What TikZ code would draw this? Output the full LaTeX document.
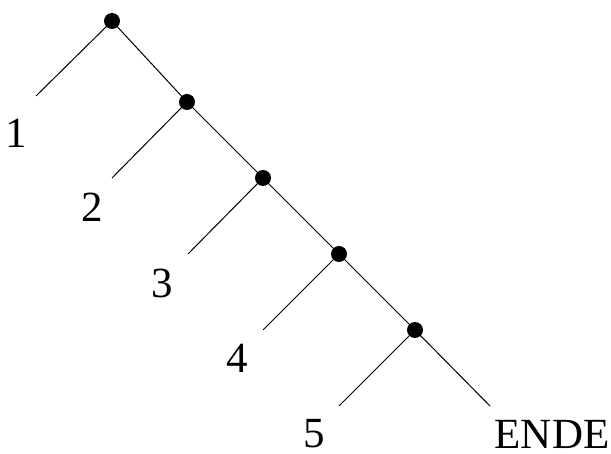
\documentclass[tikz,border=0pt]{standalone}
\usepackage{fontspec}
\setmainfont{Liberation Serif}
\begin{document}
\begin{tikzpicture}[x=1pt,y=-1pt,
  dotnode/.style={circle,fill=black,inner sep=0pt,minimum size=16pt},
  leaf/.style={inner sep=0pt,anchor=base,font=\fontsize{43}{43}\selectfont},
  edge/.style={line width=1pt}]
\useasboundingbox (0,0) rectangle (611,454);
\coordinate (d1) at (112,21);
\coordinate (d2) at (187,102);
\coordinate (d3) at (263,178);
\coordinate (d4) at (339,254);
\coordinate (d5) at (415,330);
\coordinate (e1) at (36,96);
\coordinate (e2) at (112,178);
\coordinate (e3) at (188,254);
\coordinate (e4) at (263,330);
\coordinate (e5) at (339,406);
\coordinate (e6) at (490,406);
\draw[edge] (d1) -- (d2) -- (d3) -- (d4) -- (d5) -- (e6);
\draw[edge] (d1) -- (e1);
\draw[edge] (d2) -- (e2);
\draw[edge] (d3) -- (e3);
\draw[edge] (d4) -- (e4);
\draw[edge] (d5) -- (e5);
\node[dotnode] (n1) at (d1) {};
\node[dotnode] (n2) at (d2) {};
\node[dotnode] (n3) at (d3) {};
\node[dotnode] (n4) at (d4) {};
\node[dotnode] (n5) at (d5) {};
\node[leaf] (l1) at (16,148) {1};
\node[leaf] (l2) at (92,222) {2};
\node[leaf] (l3) at (162,298) {3};
\node[leaf] (l4) at (237,373) {4};
\node[leaf] (l5) at (314,448) {5};
\node[leaf] (l6) at (552,449) {ENDE};
\end{tikzpicture}
\end{document}
